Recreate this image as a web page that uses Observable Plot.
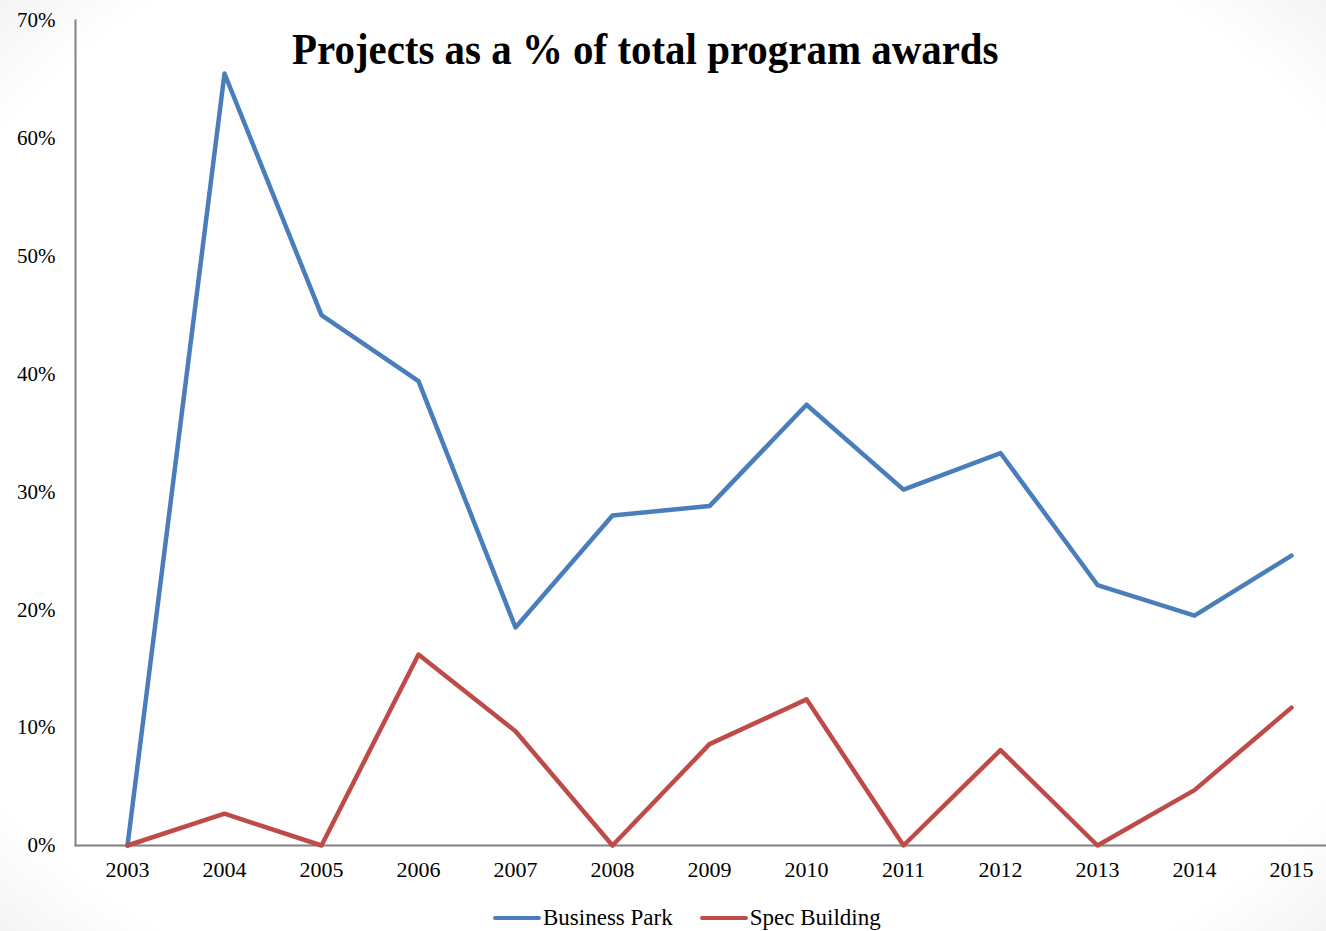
<!DOCTYPE html>
<html>
<head>
<meta charset="utf-8">
<script src="https://cdn.jsdelivr.net/npm/d3@7"></script>
<script src="https://cdn.jsdelivr.net/npm/@observablehq/plot@0.6"></script>
<style>
  html, body { margin: 0; padding: 0; }
  body {
    width: 1326px; height: 931px; overflow: hidden; position: relative;
    background: radial-gradient(ellipse 75% 80% at 50% 50%, #ffffff 80%, #ececec 100%);
    font-family: "Liberation Serif", "Times New Roman", serif;
  }
  #title {
    position: absolute; left: 292px; top: 24px; white-space: nowrap;
    font-size: 44px; font-weight: bold; color: #000;
    transform-origin: 0 0; transform: scaleX(0.93);
  }
  #legend {
    position: absolute; left: 493px; top: 905px; display: flex; align-items: center;
    font-size: 23px; color: #000; white-space: nowrap;
  }
  #legend span.item { display: inline-flex; align-items: center; margin-right: 27px; }
  #legend span.sw { display: inline-block; width: 48px; height: 4px; border-radius: 2px; margin-right: 2px; }
</style>
</head>
<body>
<div id="chart"></div>
<div id="title">Projects as a % of total program awards</div>
<div id="legend"></div>
<script>
const years = ["2003","2004","2005","2006","2007","2008","2009","2010","2011","2012","2013","2014","2015"];
const businessPark = [0, 65.5, 45.0, 39.4, 18.5, 28.0, 28.8, 37.4, 30.2, 33.3, 22.1, 19.5, 24.6];
const specBuilding = [0, 2.7, 0, 16.2, 9.7, 0, 8.6, 12.4, 0, 8.1, 0, 4.7, 11.7];
const seriesNames = ["Business Park", "Spec Building"];
const seriesColors = ["#4A7EBB", "#BE4B48"];
const yTicks = [0, 10, 20, 30, 40, 50, 60, 70];

const rows = [];
years.forEach((y, i) => {
  rows.push({year: y, value: businessPark[i], series: seriesNames[0]});
  rows.push({year: y, value: specBuilding[i], series: seriesNames[1]});
});

const chart = Plot.plot({
  width: 1326,
  height: 895,
  marginTop: 20,
  marginBottom: 50,
  marginLeft: 75,
  marginRight: 0,
  style: {background: "transparent", fontFamily: "Liberation Serif, Times New Roman, serif", fontSize: "22px", color: "#000"},
  x: {type: "point", domain: years, range: [123, 1294], padding: 0, label: null},
  y: {domain: [0, 70], label: null},
  color: {domain: seriesNames, range: seriesColors},
  marks: [
    Plot.axisY({ticks: yTicks, tickSize: 0, tickPadding: 20, tickFormat: d => d + "%", label: null, fontSize: 21}),
    Plot.axisX({tickSize: 0, tickPadding: 16, label: null, fontSize: 22}),
    Plot.frame({anchor: "left", stroke: "#808080", strokeWidth: 2}),
    Plot.ruleY([0], {stroke: "#808080", strokeWidth: 2}),
    Plot.line(rows, {x: "year", y: "value", z: "series", stroke: "series", strokeWidth: 4.5, strokeLinejoin: "round"})
  ]
});
document.getElementById("chart").appendChild(chart);

const legend = document.getElementById("legend");
seriesNames.forEach((name, i) => {
  const item = document.createElement("span");
  item.className = "item";
  const sw = document.createElement("span");
  sw.className = "sw";
  sw.style.background = seriesColors[i];
  item.appendChild(sw);
  item.appendChild(document.createTextNode(name));
  legend.appendChild(item);
});
</script>
</body>
</html>
